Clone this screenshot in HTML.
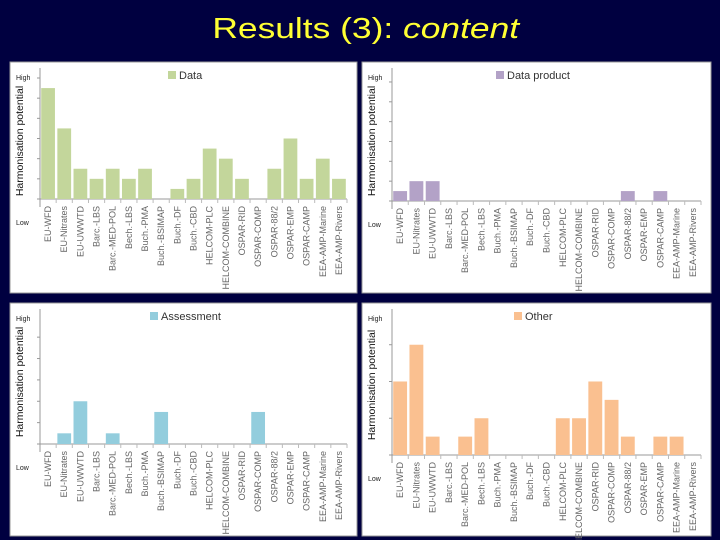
<!DOCTYPE html>
<html><head><meta charset="utf-8"><style>
body{margin:0;width:720px;height:540px;background:#000040;overflow:hidden;font-family:"Liberation Sans",sans-serif}
#title{position:absolute;left:0;width:732px;top:13px;text-align:center;color:#ffff33;font-size:29px}
#title span{display:inline-block;transform:scaleX(1.22);transform-origin:center}
svg{position:absolute;left:0;top:0}
</style></head><body>
<div id="title"><span>Results (3): <i>content</i></span></div>
<svg id="chart" width="720" height="540"></svg>
<script>
const categories = ["EU-WFD","EU-Nitrates","EU-UWWTD","Barc.-LBS","Barc.-MED-POL","Bech.-LBS","Buch.-PMA","Buch.-BSIMAP","Buch.-DF","Buch.-CBD","HELCOM-PLC","HELCOM-COMBINE","OSPAR-RID","OSPAR-COMP","OSPAR-88/2","OSPAR-EMP","OSPAR-CAMP","EEA-AMP-Marine","EEA-AMP-Rivers"];
const dataValues = [11,7,3,2,3,2,3,0,1,2,5,4,2,0,3,6,2,4,2];
const dataProductValues = [1,2,2,0,0,0,0,0,0,0,0,0,0,0,1,0,1,0,0];
const assessmentValues = [0,1,4,0,1,0,0,3,0,0,0,0,0,3,0,0,0,0,0];
const otherValues = [4,6,1,0,1,2,0,0,0,0,2,2,4,3,1,0,1,1,0];
const yMaxes = [12, 12.4, 11.7, 7.4];
const seriesNames = ["Data","Data product","Assessment","Other"];
const seriesColors = ["#c3d69b","#b3a2c7","#93cddd","#fac090"];
const seriesValues = [dataValues, dataProductValues, assessmentValues, otherValues];

const NS="http://www.w3.org/2000/svg";
const svg=document.getElementById('chart');
function mk(tag,attrs,parent){const e=document.createElementNS(NS,tag);for(const k in attrs)e.setAttribute(k,attrs[k]);(parent||svg).appendChild(e);return e;}
const panels=[{x:10,y:62,w:347,h:231,ax:137,tc:79},{x:362,y:62,w:349,h:231,ax:139,tc:79},{x:10,y:303,w:347,h:233,ax:141,tc:79},{x:362,y:303,w:349,h:233,ax:152,tc:82}];
panels.forEach((p,i)=>{
  const g=mk('g',{transform:`translate(${p.x},${p.y})`});
  
  
  const bg=mk('rect',{x:0,y:0,width:p.w,height:p.h,fill:'#fff',stroke:'#999'},g);
  
  
  const left=30,right=p.w-10,top=16,axY=p.ax;
  const yMax=yMaxes[i];
  const yS=v=>axY-(axY-top)*v/yMax;
  const cw=(right-left)/categories.length;
  const xS=k=>left+k*cw;
  mk('line',{x1:left,y1:top-10,x2:left,y2:axY+8,stroke:'#999'},g);
  for(let t=0;t<=yMax;t+=2){mk('line',{x1:left-3,y1:yS(t),x2:left,y2:yS(t),stroke:'#999'},g);}
  mk('line',{x1:left,y1:axY,x2:right,y2:axY,stroke:'#999'},g);
  const hi=mk('text',{x:6,y:top+2,'font-size':7,fill:'#222'},g);hi.textContent='High';
  
  
  const lo=mk('text',{x:6,y:axY+26,'font-size':7,fill:'#222'},g);lo.textContent='Low';
  
  
  const yt=mk('text',{transform:`translate(13,${p.tc}) rotate(-90)`,'text-anchor':'middle','font-size':10.5,fill:'#111'},g);
  yt.textContent='Harmonisation potential';
  
  
  const lg=mk('g',{},g);
  
  
  const lx=i===0?158:(i===1?134:(i===2?140:152));
  mk('rect',{x:lx,y:9,width:8,height:8,fill:seriesColors[i]},lg);
  const lt=mk('text',{x:lx+11,y:17,'font-size':11,fill:'#333'},lg);lt.textContent=seriesNames[i];
  const vals=seriesValues[i];
  categories.forEach((c,k)=>{
    mk('line',{x1:xS(k+1),y1:axY,x2:xS(k+1),y2:axY+4,stroke:'#bbb'},g);
    if(vals[k]>0){
      const b=mk('rect',{x:xS(k)+1.2,y:yS(vals[k]),width:cw-2.4,height:axY-yS(vals[k]),fill:seriesColors[i]},g);
      
      
    }
    const tx=xS(k)+cw/2+3;
    const tl=mk('text',{transform:`translate(${tx},${axY+7}) rotate(-90)`,'text-anchor':'end','font-size':9,fill:'#666'},g);
    tl.textContent=c;
    
    
  });
});
</script>
</body></html>
